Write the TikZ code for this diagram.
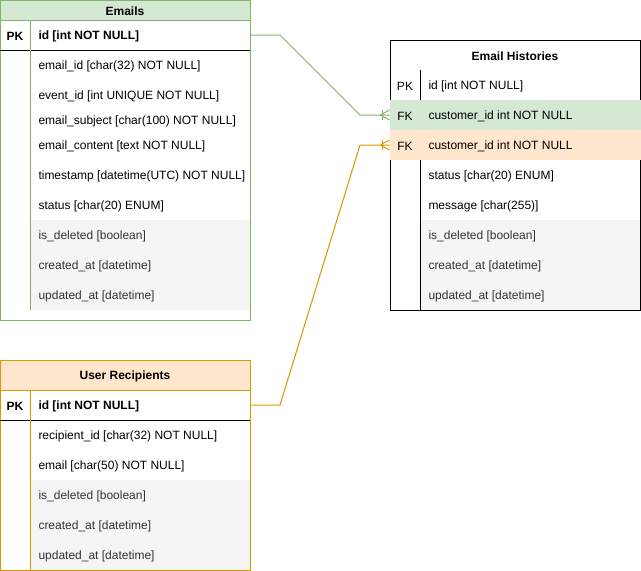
\documentclass[tikz,border=0pt]{standalone}
\usepackage{fontspec}
\setmainfont{Liberation Sans}
\usetikzlibrary{calc}
\definecolor{gfill}{HTML}{D5E8D4}
\definecolor{gline}{HTML}{82B366}
\definecolor{ofill}{HTML}{FFE6CC}
\definecolor{oline}{HTML}{D79B00}
\definecolor{grayfill}{HTML}{F5F5F5}
\definecolor{graytext}{HTML}{333333}
\tikzset{
  txt/.style={anchor=west, inner sep=0pt, text=black, yshift=-1.2pt},
  gtxt/.style={txt, text=graytext},
  pktxt/.style={inner sep=0pt, text=black, yshift=-1.2pt},
  pkbold/.style={pktxt, font=\fontsize{12}{14}\selectfont\bfseries},
  headtxt/.style={inner sep=0pt, text=black, yshift=-1pt, font=\fontsize{12}{14}\selectfont\bfseries},
  boldtxt/.style={txt, font=\fontsize{12}{14}\selectfont\bfseries},
  rowcell/.style={inner sep=0pt, minimum width=250, minimum height=30, draw=none},
  conn/.style={line width=1pt},
}
\begin{document}
\begin{tikzpicture}[x=1pt,y=-1pt,line width=1pt,font=\fontsize{12}{14}\selectfont]
\useasboundingbox (0,0) rectangle (641,571);
% ---------------- Emails ----------------
\fill[gfill] (0,0) rectangle (250,20);
\fill[grayfill] (30,220) rectangle (250,310);
\draw[gline] (0,0) rectangle (250,320);
\draw[gline] (0,20) -- (250,20);
\draw (0,50) -- (250,50);
\draw[gline] (30,20) -- (30,310);
\node[rowcell] (emailsPK) at (125,35) {};
\node[headtxt] (emailsH) at (125,10) {Emails};
\node[pkbold] (emailsPKl) at (15,35) {PK};
\node[boldtxt] (emailsId) at (38,35) {id [int NOT NULL]};
\node[txt] (e1) at (38,65) {email\_id [char(32) NOT NULL]};
\node[txt] (e2) at (38,95) {event\_id [int UNIQUE NOT NULL]};
\node[txt] (e3) at (38,120) {email\_subject [char(100) NOT NULL]};
\node[txt] (e4) at (38,145) {email\_content [text NOT NULL]};
\node[txt] (e5) at (38,175) {timestamp [datetime(UTC) NOT NULL]};
\node[txt] (e6) at (38,205) {status [char(20) ENUM]};
\node[gtxt] (e7) at (38,235) {is\_deleted [boolean]};
\node[gtxt] (e8) at (38,265) {created\_at [datetime]};
\node[gtxt] (e9) at (38,295) {updated\_at [datetime]};
% ---------------- Email Histories ----------------
\draw (390,40) rectangle (640,310);
\draw (420,70) -- (420,100);
\draw (420,160) -- (420,310);
\fill[gfill] (389.5,100) rectangle (640.5,130);
\fill[ofill] (389.5,130) rectangle (640.5,160);
\fill[grayfill] (420.5,220) rectangle (639.5,309.5);
\node[rowcell] (histFK1) at (515,115) {};
\node[rowcell] (histFK2) at (515,145) {};
\node[headtxt] (histH) at (515,55) {Email Histories};
\node[pktxt] (histPKl) at (405,85) {PK};
\node[txt] (histId) at (428,85) {id [int NOT NULL]};
\node[pktxt] (histFK1l) at (405,115) {FK};
\node[txt] (h1) at (428,115) {customer\_id int NOT NULL};
\node[pktxt] (histFK2l) at (405,145) {FK};
\node[txt] (h2) at (428,145) {customer\_id int NOT NULL};
\node[txt] (h3) at (428,175) {status [char(20) ENUM]};
\node[txt] (h4) at (428,205) {message [char(255)]};
\node[gtxt] (h5) at (428,235) {is\_deleted [boolean]};
\node[gtxt] (h6) at (428,265) {created\_at [datetime]};
\node[gtxt] (h7) at (428,295) {updated\_at [datetime]};
% ---------------- User Recipients ----------------
\fill[ofill] (0,360) rectangle (250,390);
\fill[grayfill] (30,480) rectangle (250,570);
\draw[oline] (0,360) rectangle (250,570);
\draw[oline] (0,390) -- (250,390);
\draw (0,420) -- (250,420);
\draw[oline] (30,390) -- (30,570);
\node[rowcell] (urPK) at (125,405) {};
\node[headtxt] (urH) at (125,375) {User Recipients};
\node[pkbold] (urPKl) at (15,405) {PK};
\node[boldtxt] (urId) at (38,405) {id [int NOT NULL]};
\node[txt] (u1) at (38,435) {recipient\_id [char(32) NOT NULL]};
\node[txt] (u2) at (38,465) {email [char(50) NOT NULL]};
\node[gtxt] (u3) at (38,495) {is\_deleted [boolean]};
\node[gtxt] (u4) at (38,525) {created\_at [datetime]};
\node[gtxt] (u5) at (38,555) {updated\_at [datetime]};
% ---------------- Connectors ----------------
\draw[conn, gline] (emailsPK.east) -- (280,35) -- (360,115) -- (histFK1.west);
\draw[conn, gline] ($(histFK1.west)+(-9,0)$) -- ($(histFK1.west)+(0,-5)$);
\draw[conn, gline] ($(histFK1.west)+(-9,0)$) -- ($(histFK1.west)+(0,5)$);
\draw[conn, gline] ($(histFK1.west)+(-7,-5)$) -- ($(histFK1.west)+(-7,5)$);
\draw[conn, oline] (urPK.east) -- (280,405) -- (360,145) -- (histFK2.west);
\draw[conn, oline] ($(histFK2.west)+(-9,0)$) -- ($(histFK2.west)+(0,-5)$);
\draw[conn, oline] ($(histFK2.west)+(-9,0)$) -- ($(histFK2.west)+(0,5)$);
\draw[conn, oline] ($(histFK2.west)+(-7,-5)$) -- ($(histFK2.west)+(-7,5)$);
\end{tikzpicture}
\end{document}
